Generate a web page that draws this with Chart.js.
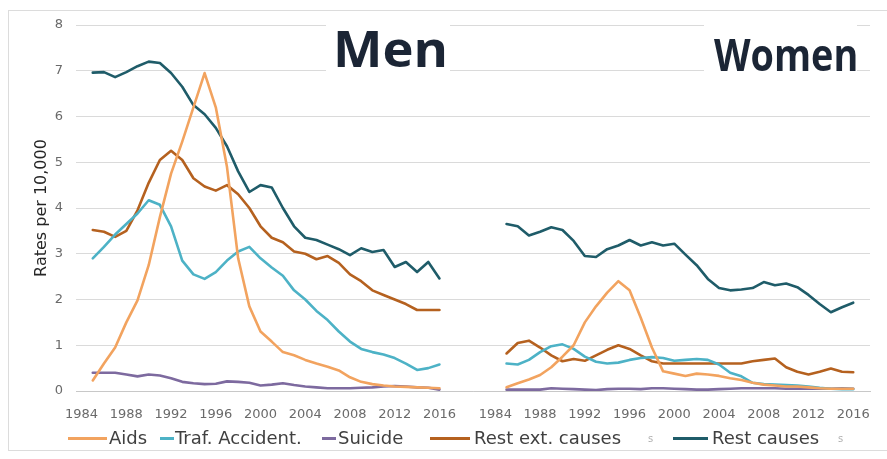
<!DOCTYPE html>
<html>
<head>
<meta charset="utf-8">
<script src="https://cdn.jsdelivr.net/npm/chart.js@4.4.1/dist/chart.umd.min.js"></script>
<style>
    html, body { margin: 0; padding: 0; background: #ffffff; }
    #wrap { position: relative; width: 887px; height: 459px; overflow: hidden; }
    #chart { position: absolute; left: 0; top: 0; }
    #frame {
        position: absolute; left: 8px; top: 10px; width: 880px; height: 441px;
        border: 1px solid #dcdcdc; box-sizing: border-box; pointer-events: none;
    }
    .title-box { position: absolute; background: #ffffff; }
    .title-text {
        position: absolute; white-space: nowrap; line-height: 1;
        font-family: "Open Sans", sans-serif; font-weight: 700; color: #1b2535;
        transform-origin: left top;
    }
    .legend-line { position: absolute; height: 3px; }
    .legend-text {
        position: absolute; white-space: nowrap; line-height: 1;
        font-family: "DejaVu Sans", sans-serif; font-size: 18px; color: #404040;
    }
    .legend-tail {
        position: absolute; white-space: nowrap; line-height: 1;
        font-family: "DejaVu Sans", sans-serif; font-size: 10px; color: #b0b0b0;
    }
</style>
</head>
<body>
<div id="wrap">
    <canvas id="chart" width="887" height="459"></canvas>
    <div id="frame"></div>

    <!-- заголовки панелей (белая подложка перекрывает линии сетки) -->
    <div class="title-box" style="left:326px; top:18px; width:124px; height:62px;"></div>
    <div class="title-text" style="left:333px; top:23px; font-size:50px; transform:scaleX(1.05);">Men</div>
    <div class="title-box" style="left:704px; top:18px; width:153px; height:60px;"></div>
    <div class="title-text" style="left:714px; top:31px; font-size:45px; transform:scaleX(0.84);">Women</div>

    <div id="legend"></div>
</div>

<script>
// Годы на оси (подписи каждые 4 года) и годы данных
const AXIS_YEARS = [1984, 1985, 1986, 1987, 1988, 1989, 1990, 1991, 1992, 1993, 1994,
    1995, 1996, 1997, 1998, 1999, 2000, 2001, 2002, 2003, 2004, 2005, 2006, 2007,
    2008, 2009, 2010, 2011, 2012, 2013, 2014, 2015, 2016];
const DATA_YEARS = [1985, 1986, 1987, 1988, 1989, 1990, 1991, 1992, 1993, 1994,
    1995, 1996, 1997, 1998, 1999, 2000, 2001, 2002, 2003, 2004, 2005, 2006, 2007,
    2008, 2009, 2010, 2011, 2012, 2013, 2014, 2015, 2016];
const Y_TICKS = [0, 1, 2, 3, 4, 5, 6, 7, 8];

const SERIES_NAMES = ['Aids', 'Traf. Accident.', 'Suicide', 'Rest ext. causes', 'Rest causes'];

// Мужчины, 1985-2016
const MEN_AIDS = [0.23, 0.6, 0.95, 1.5, 1.98, 2.75, 3.8, 4.75, 5.45, 6.2, 6.95, 6.2,
    4.9, 2.9, 1.85, 1.3, 1.08, 0.85, 0.78, 0.68, 0.6, 0.53, 0.45, 0.3, 0.2, 0.15,
    0.12, 0.1, 0.09, 0.08, 0.07, 0.06];
const MEN_TRAFFIC = [2.9, 3.15, 3.42, 3.65, 3.88, 4.17, 4.07, 3.6, 2.85, 2.55, 2.45,
    2.6, 2.85, 3.05, 3.15, 2.9, 2.7, 2.52, 2.2, 2.0, 1.75, 1.55, 1.3, 1.08, 0.92,
    0.85, 0.8, 0.72, 0.6, 0.46, 0.5, 0.58];
const MEN_SUICIDE = [0.4, 0.4, 0.4, 0.36, 0.32, 0.36, 0.34, 0.28, 0.2, 0.17, 0.15,
    0.16, 0.21, 0.2, 0.18, 0.12, 0.14, 0.17, 0.13, 0.1, 0.08, 0.06, 0.06, 0.06,
    0.07, 0.08, 0.1, 0.11, 0.1, 0.08, 0.07, 0.03];
const MEN_REST_EXT = [3.52, 3.48, 3.37, 3.5, 3.95, 4.55, 5.05, 5.25, 5.05, 4.65,
    4.47, 4.38, 4.5, 4.3, 4.0, 3.6, 3.35, 3.25, 3.05, 3.0, 2.88, 2.95, 2.8, 2.55,
    2.4, 2.2, 2.1, 2.0, 1.9, 1.77, 1.77, 1.77];
const MEN_REST = [6.96, 6.97, 6.86, 6.97, 7.1, 7.2, 7.17, 6.95, 6.65, 6.25, 6.05,
    5.75, 5.35, 4.8, 4.35, 4.5, 4.45, 4.0, 3.6, 3.35, 3.3, 3.2, 3.1, 2.97, 3.12,
    3.04, 3.08, 2.71, 2.82, 2.6, 2.82, 2.46];

// Женщины, 1985-2016
const WOMEN_AIDS = [0.08, 0.17, 0.25, 0.35, 0.52, 0.75, 1.0, 1.5, 1.85, 2.15, 2.4,
    2.2, 1.6, 0.95, 0.43, 0.38, 0.33, 0.38, 0.36, 0.33, 0.28, 0.24, 0.18, 0.14,
    0.12, 0.1, 0.1, 0.08, 0.06, 0.05, 0.05, 0.05];
const WOMEN_TRAFFIC = [0.6, 0.58, 0.68, 0.85, 0.98, 1.02, 0.92, 0.75, 0.64, 0.6,
    0.62, 0.68, 0.72, 0.74, 0.72, 0.66, 0.68, 0.7, 0.68, 0.58, 0.4, 0.32, 0.18,
    0.15, 0.14, 0.13, 0.12, 0.1, 0.07, 0.05, 0.04, 0.04];
const WOMEN_SUICIDE = [0.03, 0.03, 0.03, 0.03, 0.06, 0.05, 0.04, 0.03, 0.02, 0.04,
    0.05, 0.05, 0.04, 0.06, 0.06, 0.05, 0.04, 0.03, 0.03, 0.04, 0.05, 0.06, 0.06,
    0.06, 0.06, 0.05, 0.05, 0.05, 0.05, 0.05, 0.06, 0.05];
const WOMEN_REST_EXT = [0.82, 1.05, 1.1, 0.95, 0.78, 0.65, 0.7, 0.66, 0.78, 0.9,
    1.0, 0.92, 0.78, 0.65, 0.6, 0.6, 0.6, 0.6, 0.6, 0.6, 0.6, 0.6, 0.65, 0.68,
    0.71, 0.52, 0.42, 0.36, 0.42, 0.49, 0.42, 0.41];
const WOMEN_REST = [3.65, 3.6, 3.4, 3.48, 3.58, 3.52, 3.28, 2.95, 2.93, 3.1, 3.18,
    3.3, 3.18, 3.25, 3.18, 3.22, 2.98, 2.75, 2.45, 2.25, 2.2, 2.22, 2.25, 2.38,
    2.31, 2.35, 2.27, 2.1, 1.9, 1.72, 1.83, 1.93];

const MEN_SERIES = [MEN_AIDS, MEN_TRAFFIC, MEN_SUICIDE, MEN_REST_EXT, MEN_REST];
const WOMEN_SERIES = [WOMEN_AIDS, WOMEN_TRAFFIC, WOMEN_SUICIDE, WOMEN_REST_EXT, WOMEN_REST];

// Оформление
const COLORS = ['#f2a35f', '#4db2c6', '#7d6a9f', '#b5611f', '#1f5c69'];
const PANEL_GAP = 4;   // пустые категории между панелями
const LEGEND_LAYOUT = [
    { line: [68, 107], text: 109 },
    { line: [160, 174], text: 175 },
    { line: [322, 336], text: 338 },
    { line: [430, 470], text: 474, tail: 648 },
    { line: [673, 708], text: 712, tail: 838 }
];

// Ось X: годы мужчин, промежуток, годы женщин, хвостовой пустой слот
const blanks = n => new Array(n).fill('');
const labels = [
    ...AXIS_YEARS.map(String), ...blanks(PANEL_GAP),
    ...AXIS_YEARS.map(String), ...blanks(1)
];

// Данные панели выравниваются по годам оси (1984 пустой)
function panelValues(values) {
    return AXIS_YEARS.map(y => {
        const i = DATA_YEARS.indexOf(y);
        return i < 0 ? null : values[i];
    });
}

const datasets = SERIES_NAMES.map((name, k) => ({
    label: name,
    data: [
        ...panelValues(MEN_SERIES[k]), ...new Array(PANEL_GAP).fill(null),
        ...panelValues(WOMEN_SERIES[k]), null
    ],
    borderColor: COLORS[k],
    backgroundColor: COLORS[k],
    borderWidth: 2.6,
    pointRadius: 0,
    tension: 0,
    borderJoinStyle: 'round',
    borderCapStyle: 'round',
    spanGaps: false
}));

new Chart(document.getElementById('chart'), {
    type: 'line',
    data: { labels: labels, datasets: datasets },
    options: {
        responsive: false,
        animation: false,
        layout: { padding: { top: 25, right: 17, bottom: 38, left: 0 } },
        plugins: {
            legend: { display: false },
            tooltip: { enabled: false }
        },
        scales: {
            x: {
                type: 'category',
                offset: true,
                grid: { display: false },
                border: { display: true, color: '#c8c8c8', width: 1 },
                ticks: {
                    autoSkip: false,
                    maxRotation: 0,
                    minRotation: 0,
                    padding: 8,
                    color: '#6a6a6a',
                    font: { family: 'DejaVu Sans', size: 13 },
                    callback: function (value) {
                        const lab = this.getLabelForValue(value);
                        return lab !== '' && Number(lab) % 4 === 0 ? lab : '';
                    }
                },
                afterFit: scale => { scale.height = 30; }
            },
            y: {
                min: Y_TICKS[0],
                max: Y_TICKS[Y_TICKS.length - 1],
                afterBuildTicks: scale => { scale.ticks = Y_TICKS.map(v => ({ value: v })); },
                grid: { color: '#dadada', lineWidth: 1, drawTicks: false },
                border: { display: false },
                ticks: {
                    padding: 13,
                    color: '#6a6a6a',
                    font: { family: 'DejaVu Sans', size: 13 }
                },
                title: {
                    display: true,
                    text: 'Rates per 10,000',
                    color: '#262626',
                    font: { family: 'DejaVu Sans', size: 16 },
                    padding: { top: 32, bottom: 0 }
                },
                afterFit: scale => { scale.width = 76; }
            }
        }
    }
});

// HTML-легенда под графиком
const legend = document.getElementById('legend');
SERIES_NAMES.forEach((name, k) => {
    const pos = LEGEND_LAYOUT[k];
    const line = document.createElement('div');
    line.className = 'legend-line';
    line.style.left = pos.line[0] + 'px';
    line.style.width = (pos.line[1] - pos.line[0]) + 'px';
    line.style.top = '437px';
    line.style.background = COLORS[k];
    legend.appendChild(line);

    const text = document.createElement('div');
    text.className = 'legend-text';
    text.style.left = pos.text + 'px';
    text.style.top = '429px';
    text.textContent = name;
    legend.appendChild(text);

    if (pos.tail) {
        const tail = document.createElement('div');
        tail.className = 'legend-tail';
        tail.style.left = pos.tail + 'px';
        tail.style.top = '434px';
        tail.textContent = 's';
        legend.appendChild(tail);
    }
});
</script>
</body>
</html>
